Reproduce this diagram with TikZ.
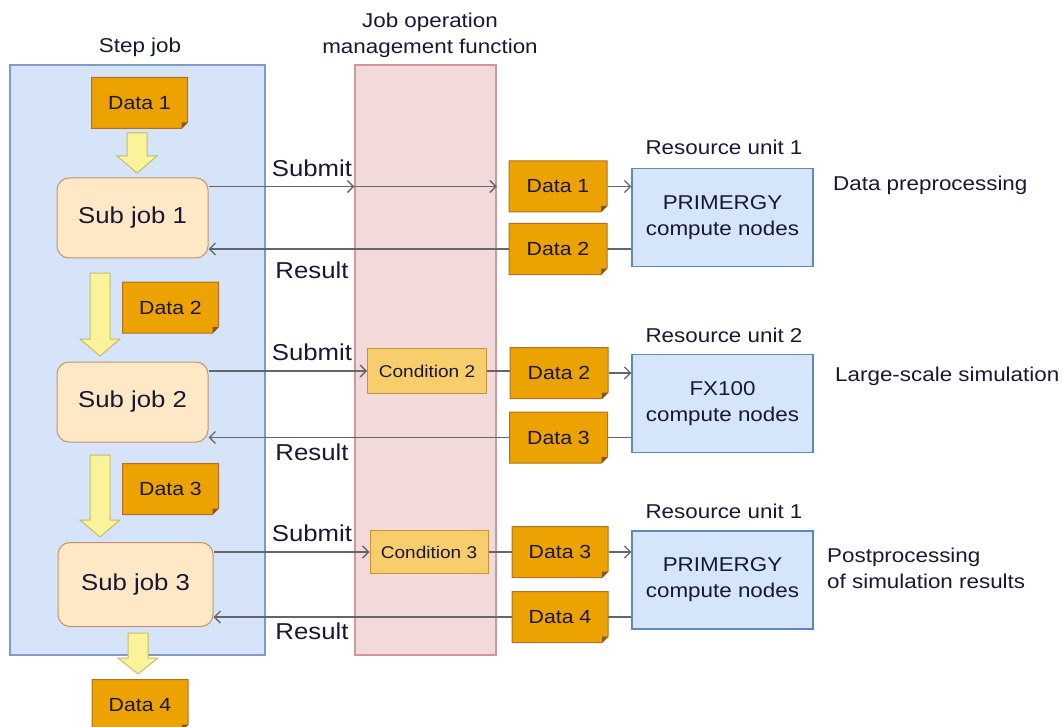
\documentclass[tikz,border=0pt]{standalone}
\usepackage{fontspec}
\setmainfont{Liberation Sans}[FakeStretch=1.12]
\usetikzlibrary{arrows.meta}

\definecolor{textc}{RGB}{24,24,52}
\definecolor{stepfill}{RGB}{213,228,248}
\definecolor{stepline}{RGB}{126,156,200}
\definecolor{jomfill}{RGB}{243,218,218}
\definecolor{jomline}{RGB}{208,152,152}
\definecolor{datafill}{RGB}{236,162,0}
\definecolor{dataline}{RGB}{176,112,40}
\definecolor{folddark}{RGB}{140,84,28}
\definecolor{subfill}{RGB}{254,232,198}
\definecolor{subline}{RGB}{200,146,108}
\definecolor{condfill}{RGB}{248,205,108}
\definecolor{condline}{RGB}{196,146,64}
\definecolor{resfill}{RGB}{214,230,250}
\definecolor{resline}{RGB}{95,135,192}
\definecolor{bafill}{RGB}{250,243,154}
\definecolor{baline}{RGB}{196,188,110}
\definecolor{connc}{RGB}{100,102,108}

\tikzset{
  panel/.style={draw, line width=1.5pt, inner sep=0pt},
  notebody/.style={draw=dataline, fill=datafill, line width=1pt, line join=miter},
  notefold/.style={fill=folddark},
  notetext/.style={inner sep=0pt, outer sep=0.5pt, minimum height=51pt, text=textc,
    font=\fontsize{19}{21}\selectfont},
  subjob/.style={rounded corners=12pt, draw=subline, fill=subfill, line width=1pt,
    minimum width=151pt, minimum height=80pt, text=textc,
    font=\fontsize{23}{25}\selectfont},
  condbox/.style={draw=condline, fill=condfill, line width=1pt,
    minimum width=119pt, minimum height=45pt, text=textc,
    font=\fontsize{17}{19}\selectfont},
  resbox/.style={draw=resline, fill=resfill, line width=1.2pt,
    minimum width=181pt, minimum height=98pt, text=textc, align=center,
    font=\fontsize{20}{26}\selectfont},
  lbl/.style={text=textc, font=\fontsize{20}{26}\selectfont, inner sep=0pt},
  flow/.style={text=textc, font=\fontsize{23}{25}\selectfont, inner sep=0pt},
  conn/.style={draw=connc, line width=1.5pt},
  tip/.style={-{Straight Barb[length=6pt,width=12pt,line width=1.3pt]}},
  blockarrow/.style={draw=baline, fill=bafill, line width=1pt, line join=miter}
}

% data note (width given, height 51) with a folded lower right corner
\newcommand\datanote[4][96]{%
  \draw[notebody] ([shift={({-#1/2},-25.5)}]#3) -- ([shift={({#1/2},-25.5)}]#3)
    -- ([shift={({#1/2},19.5)}]#3) -- ([shift={({#1/2-6},25.5)}]#3)
    -- ([shift={({-#1/2},25.5)}]#3) -- cycle;
  \fill[notefold] ([shift={({#1/2},19.5)}]#3) -- ([shift={({#1/2-6},19.5)}]#3)
    -- ([shift={({#1/2-6},25.5)}]#3) -- cycle;
  \node[notetext, minimum width=#1pt] (#2) at (#3) {#4};}

% block arrow pointing down: centre x, top y, head start y, tip y
\newcommand\downblock[4]{%
  \draw[blockarrow] (#1-10,#2) -- (#1+10,#2) -- (#1+10,#3) -- (#1+20,#3)
    -- (#1,#4) -- (#1-20,#3) -- (#1-10,#3) -- cycle;}

\begin{document}
\begin{tikzpicture}[x=1pt,y=-1pt]
\useasboundingbox (0,0) rectangle (1062,727);
\begin{scope}
\clip (0,0) rectangle (1062,727);

% swim lanes
\node[panel, draw=stepline, fill=stepfill, minimum width=255pt, minimum height=590pt]
  (stepjob) at (137.5,360) {};
\node[panel, draw=jomline, fill=jomfill, minimum width=141pt, minimum height=590pt]
  (jom) at (425.5,360) {};

\node[lbl] (steplbl) at (140,47) {Step job};
\node[lbl, align=center] (jomlbl) at (430,35) {Job operation\\management function};

% sub jobs
\node[subjob] (s1) at (132.5,218) {Sub job 1};
\node[subjob] (s2) at (132.5,402) {Sub job 2};
\node[subjob, minimum width=155pt, minimum height=84pt] (s3) at (135.5,584.5) {Sub job 3};

% resource units
\node[resbox] (r1) at (722.5,217.5) {PRIMERGY\\compute nodes};
\node[resbox] (r2) at (722.5,403.5) {FX100\\compute nodes};
\node[resbox] (r3) at (722.5,580) {PRIMERGY\\compute nodes};

\node[lbl] (r1lbl) at (724,147) {Resource unit 1};
\node[lbl] (r2lbl) at (724,335) {Resource unit 2};
\node[lbl] (r3lbl) at (724,511) {Resource unit 1};

\node[lbl, anchor=west] (r1txt) at (833,185) {Data preprocessing};
\node[lbl, anchor=west] (r2txt) at (835,376) {Large-scale simulation};
\node[lbl, anchor=west, align=left] (r3txt) at (827,568) {Postprocessing\\of simulation results};

% conditions
\node[condbox] (c2) at (427,371) {Condition 2};
\node[condbox, minimum width=118pt, minimum height=43pt] (c3) at (429,552) {Condition 3};

% positions of the data notes next to the resource units
\coordinate (d1rc) at (558,186.5);
\coordinate (d2rc) at (558,249);
\coordinate (d2sc) at (559,373);
\coordinate (d3rc) at (558.5,437.5);
\coordinate (d3sc) at (560,552);
\coordinate (d4rc) at (560,617);

% row 1 connectors
\coordinate (jin1) at (jom.west |- d1rc);
\coordinate (jout1) at (jom.east |- d1rc);
\draw[conn, tip] (s1.east |- d1rc) -- (jin1);
\draw[conn, tip] (jin1) -- (jout1);
\draw[conn, tip] (r1.west |- d2rc) -- (s1.east |- d2rc);

% row 2 connectors
\draw[conn, tip] (s2.east |- c2) -- (c2.west);
\draw[conn] (c2.east) -- (c2.east -| d2sc);
\draw[conn, tip] (r2.west |- d3rc) -- (s2.east |- d3rc);

% row 3 connectors
\draw[conn, tip] (s3.east |- c3) -- (c3.west);
\draw[conn] (c3.east) -- (c3.east -| d3sc);
\draw[conn, tip] (r3.west |- d4rc) -- (s3.east |- d4rc);

% data notes
\datanote{d1}{139.5,103}{Data 1}
\datanote{d2l}{170.5,307.5}{Data 2}
\datanote{d3l}{170.5,489}{Data 3}
\datanote{d4}{140,705}{Data 4}

\datanote[98]{d1r}{d1rc}{Data 1}
\datanote[98]{d2r}{d2rc}{Data 2}
\datanote[98]{d2s}{d2sc}{Data 2}
\datanote[98]{d3r}{d3rc}{Data 3}
\datanote{d3s}{d3sc}{Data 3}
\datanote{d4r}{d4rc}{Data 4}

% data handed to the resource units
\draw[conn, tip] (d1r.east) -- (r1.west |- d1r.east);
\draw[conn, tip] (d2s.east) -- (r2.west |- d2s.east);
\draw[conn, tip] (d3s.east) -- (r3.west |- d3s.east);

% submit / result labels
\node[flow] (sub1) at (312,168) {Submit};
\node[flow] (res1) at (312,270) {Result};
\node[flow] (sub2) at (312,352) {Submit};
\node[flow] (res2) at (312,452) {Result};
\node[flow] (sub3) at (312,533) {Submit};
\node[flow] (res3) at (312,631) {Result};

% block arrows between the steps
\downblock{137}{133}{156}{173}
\downblock{100}{273}{339}{356}
\downblock{100}{455}{520}{537}
\downblock{138}{633}{658}{674}
\end{scope}
\end{tikzpicture}
\end{document}
